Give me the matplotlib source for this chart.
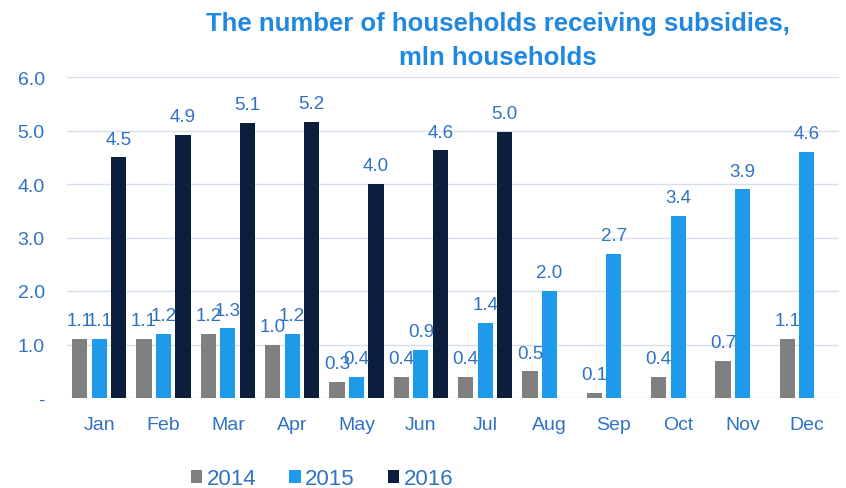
import numpy as np
import matplotlib.pyplot as plt

plt.rcParams['font.family'] = ['Liberation Sans', 'DejaVu Sans']

months = ['Jan', 'Feb', 'Mar', 'Apr', 'May', 'Jun', 'Jul', 'Aug', 'Sep', 'Oct', 'Nov', 'Dec']
hh_2014 = [1.1, 1.1, 1.2, 1.0, 0.3, 0.4, 0.4, 0.5, 0.1, 0.4, 0.7, 1.1]
hh_2015 = [1.1, 1.2, 1.3, 1.2, 0.4, 0.9, 1.4, 2.0, 2.7, 3.4, 3.9, 4.6]
hh_2016 = [4.5, 4.92, 5.14, 5.16, 4.0, 4.63, 4.98]

c14 = '#808080'
c15 = '#1E9BE8'
c16 = '#0B1E3D'
txt = '#2F72C4'

fig = plt.figure(figsize=(8.46, 4.89), dpi=100)
ax = fig.add_axes([67 / 846, 1 - 399 / 489, 772 / 846, 321 / 489])

x = np.arange(len(months))
w = 0.235
off = 0.303
b14 = ax.bar(x - off, hh_2014, w, color=c14, label='2014', zorder=3)
b15 = ax.bar(x, hh_2015, w, color=c15, label='2015', zorder=3)
b16 = ax.bar(x[:len(hh_2016)] + off, hh_2016, w, color=c16, label='2016', zorder=3)

# value labels (they overlap a little in the original too)
for bars in (b14, b15, b16):
    ax.bar_label(bars, fmt='%.1f', padding=7, fontsize=13.5, color=txt, zorder=4)

ax.set_xlim(-0.5, len(months) - 0.5)
ax.set_ylim(0, 6)
ax.set_yticks(np.arange(0, 7, 1))
ax.set_yticklabels(['-'] + ['%.1f' % v for v in range(1, 7)])
ax.set_xticks(x)
ax.set_xticklabels(months)
ax.tick_params(axis='both', length=0, labelsize=14, labelcolor=txt)
ax.tick_params(axis='x', pad=13)
ax.tick_params(axis='y', pad=16)
ax.grid(axis='y', color='#D6E0EC', linewidth=1, zorder=0)
for s in ax.spines.values():
    s.set_visible(False)

fig.text(498 / 846, 1 - 41 / 489, 'The number of households receiving subsidies,\nmln households',
         ha='center', va='center', fontsize=18.5, fontweight='bold', color='#2088E0',
         linespacing=1.55)

ax.legend(loc='center', bbox_to_anchor=(322 / 846, 1 - 480 / 489), bbox_transform=fig.transFigure,
          ncol=3, frameon=False, fontsize=16, labelcolor=txt, handlelength=0.5, handleheight=0.5,
          handletextpad=0.2, columnspacing=1.5)

fig.savefig('out.png', dpi=100)
